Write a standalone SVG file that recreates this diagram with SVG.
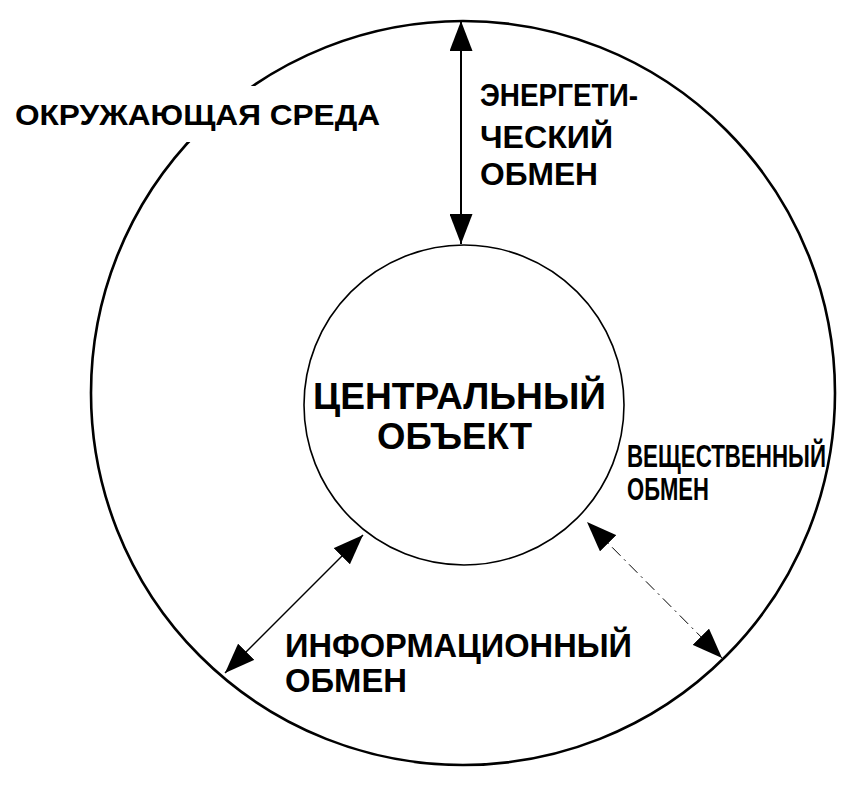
<svg xmlns="http://www.w3.org/2000/svg" width="856" height="787" viewBox="0 0 856 787">
<style>
.t{font-family:"Liberation Sans",Arial,sans-serif;font-weight:bold;fill:#000}
.c{fill:none;stroke:#000}
</style>
<defs>
<marker id="ah" viewBox="0 0 30 23" refX="30" refY="11.5" markerWidth="30" markerHeight="23" markerUnits="userSpaceOnUse" orient="auto-start-reverse">
<path d="M0,0 L30,11.5 L0,23 z" fill="#000"/>
</marker>
</defs>
<rect width="856" height="787" fill="#fff"/>
<g id="environment">
<circle class="c" cx="463" cy="393" r="372" stroke-width="2.6"/>
<rect x="10" y="86" width="380" height="56" fill="#fff"/>
<text class="t" x="15" y="125" font-size="30" textLength="365" lengthAdjust="spacingAndGlyphs">ОКРУЖАЮЩАЯ СРЕДА</text>
</g>
<g id="central-object">
<circle class="c" cx="464" cy="405" r="160" stroke-width="1.6"/>
<text class="t" x="313" y="409" font-size="37" textLength="293" lengthAdjust="spacingAndGlyphs">ЦЕНТРАЛЬНЫЙ</text>
<text class="t" x="377" y="449" font-size="37" textLength="155" lengthAdjust="spacingAndGlyphs">ОБЪЕКТ</text>
</g>
<g id="connectors">
<line x1="461" y1="21" x2="461" y2="244" stroke="#000" stroke-width="2" marker-start="url(#ah)" marker-end="url(#ah)"/>
<line x1="225" y1="673" x2="363" y2="535" stroke="#000" stroke-width="1.4" marker-start="url(#ah)" marker-end="url(#ah)"/>
<line x1="722" y1="658" x2="587" y2="522" stroke="#000" stroke-width="1" stroke-dasharray="12 5 2 5" marker-start="url(#ah)" marker-end="url(#ah)"/>
</g>
<g id="label-energy">
<text class="t" x="480" y="106" font-size="31" textLength="158" lengthAdjust="spacingAndGlyphs">ЭНЕРГЕТИ-</text>
<text class="t" x="480" y="148" font-size="31" textLength="133" lengthAdjust="spacingAndGlyphs">ЧЕСКИЙ</text>
<text class="t" x="480" y="185" font-size="32" textLength="118" lengthAdjust="spacingAndGlyphs">ОБМЕН</text>
</g>
<g id="label-material">
<text class="t" x="627" y="467" font-size="31" textLength="199" lengthAdjust="spacingAndGlyphs">ВЕЩЕСТВЕННЫЙ</text>
<text class="t" x="627" y="500" font-size="31" textLength="82" lengthAdjust="spacingAndGlyphs">ОБМЕН</text>
</g>
<g id="label-information">
<text class="t" x="285" y="657" font-size="34" textLength="347" lengthAdjust="spacingAndGlyphs">ИНФОРМАЦИОННЫЙ</text>
<text class="t" x="285" y="692" font-size="34" textLength="122" lengthAdjust="spacingAndGlyphs">ОБМЕН</text>
</g>
</svg>
